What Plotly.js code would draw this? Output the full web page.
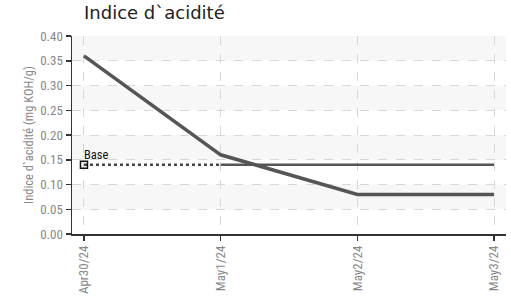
<!DOCTYPE html>
<html>
<head>
<meta charset="utf-8">
<script src="https://cdn.plot.ly/plotly-3.0.1.min.js"></script>
<style>html,body{margin:0;padding:0;background:#fff;}#chart{width:511px;height:296px;}</style>
</head>
<body>
<div id="chart"></div>
<script>
const dates = ['2024-04-30', '2024-05-01', '2024-05-02', '2024-05-03'];
const tickLabels = ['Apr30/24', 'May1/24', 'May2/24', 'May3/24'];
const acidValues = [0.36, 0.16, 0.08, 0.08];
const baseValues = [0.14, 0.14, 0.14, 0.14];
const baseLabel = 'Base';
const yTicks = [0, 0.05, 0.10, 0.15, 0.20, 0.25, 0.30, 0.35, 0.40];

const condensed = '"Liberation Sans Narrow", "Roboto Condensed", "DejaVu Sans Condensed", Roboto, sans-serif';

const shapes = [];
for (let i = 1; i < yTicks.length; i += 2) {
  shapes.push({type: 'rect', xref: 'paper', yref: 'y', x0: 0, x1: 1,
    y0: yTicks[i], y1: yTicks[i + 1], fillcolor: '#f7f7f7', line: {width: 0}, layer: 'below'});
}

const traces = [
  {x: dates.slice(0, 2), y: baseValues.slice(0, 2), mode: 'lines', type: 'scatter',
   line: {color: '#444', width: 2.5, dash: 'dot'}, hoverinfo: 'skip'},
  {x: dates.slice(1), y: baseValues.slice(1), mode: 'lines', type: 'scatter',
   line: {color: '#555', width: 2.5}, hoverinfo: 'skip'},
  {x: [dates[0]], y: [baseValues[0]], mode: 'markers', type: 'scatter',
   marker: {symbol: 'square-open', size: 7, color: '#111', line: {width: 1.5, color: '#111'}},
   hoverinfo: 'skip'},
  {x: dates, y: acidValues, mode: 'lines', type: 'scatter',
   line: {color: '#555', width: 3.5}, hoverinfo: 'skip'}
];

const layout = {
  width: 511, height: 296,
  margin: {l: 72, r: 5, t: 36, b: 62},
  paper_bgcolor: '#fff', plot_bgcolor: '#fff',
  showlegend: false,
  title: {text: 'Indice d`acidité', x: 84 / 511, xanchor: 'left', y: 0.98, yanchor: 'top',
          font: {family: '"DejaVu Sans", sans-serif', size: 18, color: '#222'}},
  annotations: [{x: dates[0], y: baseValues[0], xref: 'x', yref: 'y', text: baseLabel,
                 showarrow: false, xanchor: 'left', yanchor: 'bottom', xshift: -2, yshift: 1,
                 font: {family: condensed, size: 12.5, color: '#111'}}],
  xaxis: {type: 'date', range: ['2024-04-29 21:54', '2024-05-03 02:06'],
          tickvals: dates, ticktext: tickLabels, tickangle: -90,
          tickfont: {family: condensed, size: 13, color: '#888'},
          ticks: 'outside', ticklen: 5, tickcolor: '#333', tickwidth: 1.5,
          showline: true, linecolor: '#333', linewidth: 1.5,
          showgrid: true, gridcolor: '#d8d8d8', griddash: 'dash', gridwidth: 1,
          zeroline: false, fixedrange: true},
  yaxis: {range: [0, 0.40], tickvals: yTicks, tickformat: '.2f',
          tickfont: {family: condensed, size: 13, color: '#888'},
          ticks: 'outside', ticklen: 5, tickcolor: '#333', tickwidth: 1.5,
          showline: true, linecolor: '#333', linewidth: 1.5,
          showgrid: true, gridcolor: '#d8d8d8', griddash: 'dash', gridwidth: 1,
          zeroline: false, fixedrange: true,
          title: {text: 'Indice d`acidité (mg KOH/g)', standoff: 4,
                  font: {family: condensed, size: 12.5, color: '#888'}}},
  shapes: shapes
};

Plotly.newPlot('chart', traces, layout, {displayModeBar: false, staticPlot: true});
</script>
</body>
</html>
